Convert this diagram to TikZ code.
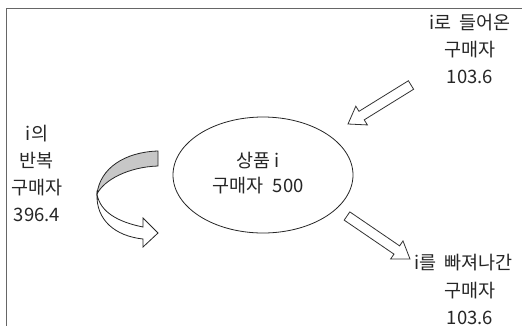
\documentclass[tikz,border=0pt]{standalone}
\usepackage{fontspec}
\newfontfamily\kr{Noto Sans CJK KR}
\usetikzlibrary{calc,shapes.geometric}
\begin{document}
\begin{tikzpicture}[x=1pt,y=-1pt,
  lbl/.style={font=\kr\fontsize{18.5}{27}\selectfont, align=center, inner sep=0pt, text=black!85},
  blockarrow/.style={draw=black!80, line width=0.8pt, fill=white, line join=miter}]
\useasboundingbox (0,0) rectangle (522,325);
\fill[white] (0,0) rectangle (522,325);
% frame
\draw[black!60, line width=1pt] (6,330) -- (6,8) -- (530,8);
% ellipse
\node[draw=black!85, line width=0.8pt, ellipse, minimum width=180pt, minimum height=116pt] (goods) at (263,175) {};
\node[lbl, font=\kr\fontsize{18.5}{25}\selectfont] (gtxt) at (258,173) {상품 i\\구매자\hspace{0.3em} 500};
% labels
\node[lbl] (inl) at (470,49) {i로\hspace{0.2em} 들어온\\구매자\\103.6};
\node[lbl, anchor=west] (outl) at (414,263) {i를\hspace{0.2em} 빠져나간};
\node[lbl] (outl2) at (470,303) {구매자\\103.6};
\node[lbl] (rep) at (37,173) {i의\\반복\\구매자\\396.4};
% block arrows
\coordinate (inTail) at (411,85);
\coordinate (inTip) at (348,124);
\coordinate (outTail) at (347,216);
\coordinate (outTip) at (410,259);
\foreach \t/\h in {inTail/inTip, outTail/outTip}{
  \coordinate (base) at ($(\h)!16pt!(\t)$);
  \draw[blockarrow]
    ($(\t)!5pt!90:(\h)$) -- ($(base)!5pt!90:(\h)$) -- ($(base)!11pt!90:(\h)$) -- (\h)
    -- ($(base)!11pt!-90:(\h)$) -- ($(base)!5pt!-90:(\h)$) -- ($(\t)!5pt!-90:(\h)$) -- cycle;
}
% curved arrow: back face
\draw[fill=black!22, draw=black!85, line width=0.8pt]
  (158,151) .. controls (125,152) and (100,168) .. (97,194)
  .. controls (104,180) and (128,167) .. (158,166) -- cycle;
% front face
\draw[fill=white, draw=black!85, line width=0.8pt, line join=miter]
  (97,194) .. controls (96,220) and (115,236) .. (143,239)
  -- (143,247) -- (158,233) -- (143,218) -- (143,227)
  .. controls (118,222) and (100,212) .. (97,194) -- cycle;
\end{tikzpicture}
\end{document}
